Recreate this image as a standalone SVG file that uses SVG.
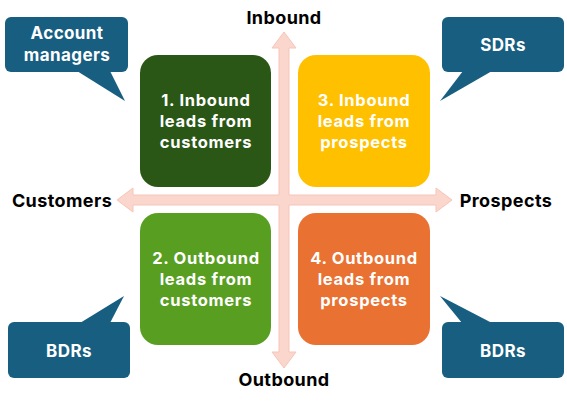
<svg xmlns="http://www.w3.org/2000/svg" width="567" height="403" viewBox="0 0 567 403">
<style>
.lbl{font-family:Inter,"Open Sans",sans-serif;font-weight:700;font-size:18px;letter-spacing:0.4px;fill:#000;text-anchor:middle}
.bt{font-family:Inter,"Open Sans",sans-serif;font-weight:700;font-size:16.5px;letter-spacing:0.7px;fill:#fff;text-anchor:middle}
.ct{font-family:Inter,"Open Sans",sans-serif;font-weight:700;font-size:17px;letter-spacing:0.4px;fill:#fff;text-anchor:middle}
.call{fill:#175e80}
.arr{fill:#fad6cd;stroke:#f6c5b9;stroke-width:1}
</style>
<rect width="567" height="403" fill="#fff"/>
<g id="connectors">
<polygon class="arr" points="279,48 272,48 284,32 296,48 289,48 289,195 436,195 436,188 452,200 436,212 436,205 289,205 289,352 296,352 284,368 272,352 279,352 279,205 133,205 133,212 117,200 133,188 133,195 279,195"/>
</g>
<g id="box1"><rect x="140" y="55" width="131" height="132" rx="18" fill="#2a5716"/>
<text class="bt" x="206" y="106">1. Inbound</text><text class="bt" x="206" y="127">leads from</text><text class="bt" x="206" y="148">customers</text></g>
<g id="box3"><rect x="298" y="55" width="132" height="132" rx="18" fill="#ffc000"/>
<text class="bt" x="364" y="106">3. Inbound</text><text class="bt" x="364" y="127">leads from</text><text class="bt" x="364" y="148">prospects</text></g>
<g id="box2"><rect x="140" y="213" width="131" height="132" rx="18" fill="#589e21"/>
<text class="bt" x="206" y="264">2. Outbound</text><text class="bt" x="206" y="285">leads from</text><text class="bt" x="206" y="306">customers</text></g>
<g id="box4"><rect x="298" y="213" width="132" height="132" rx="18" fill="#e97132"/>
<text class="bt" x="364" y="264">4. Outbound</text><text class="bt" x="364" y="285">leads from</text><text class="bt" x="364" y="306">prospects</text></g>
<g id="inbound"><text class="lbl" x="284" y="24">Inbound</text></g>
<g id="outbound"><text class="lbl" x="284" y="386">Outbound</text></g>
<g id="customers"><text class="lbl" x="62" y="207">Customers</text></g>
<g id="prospects"><text class="lbl" x="506" y="207">Prospects</text></g>
<g id="callout-am"><rect class="call" x="5" y="17" width="123" height="55" rx="6"/><polygon class="call" points="77,71 110,71 125,101"/>
<text class="ct" x="67" y="39">Account</text><text class="ct" x="67" y="61">managers</text></g>
<g id="callout-sdr"><rect class="call" x="442" y="17" width="122" height="55" rx="6"/><polygon class="call" points="463,71 492,71 440,101"/>
<text class="ct" x="503" y="51">SDRs</text></g>
<g id="callout-bdr1"><rect class="call" x="8" y="322" width="122" height="56" rx="6"/><polygon class="call" points="80,323 110,323 124,296"/>
<text class="ct" x="69" y="357">BDRs</text></g>
<g id="callout-bdr2"><rect class="call" x="442" y="322" width="122" height="56" rx="6"/><polygon class="call" points="462,323 492,323 440,296"/>
<text class="ct" x="503" y="357">BDRs</text></g>
</svg>
